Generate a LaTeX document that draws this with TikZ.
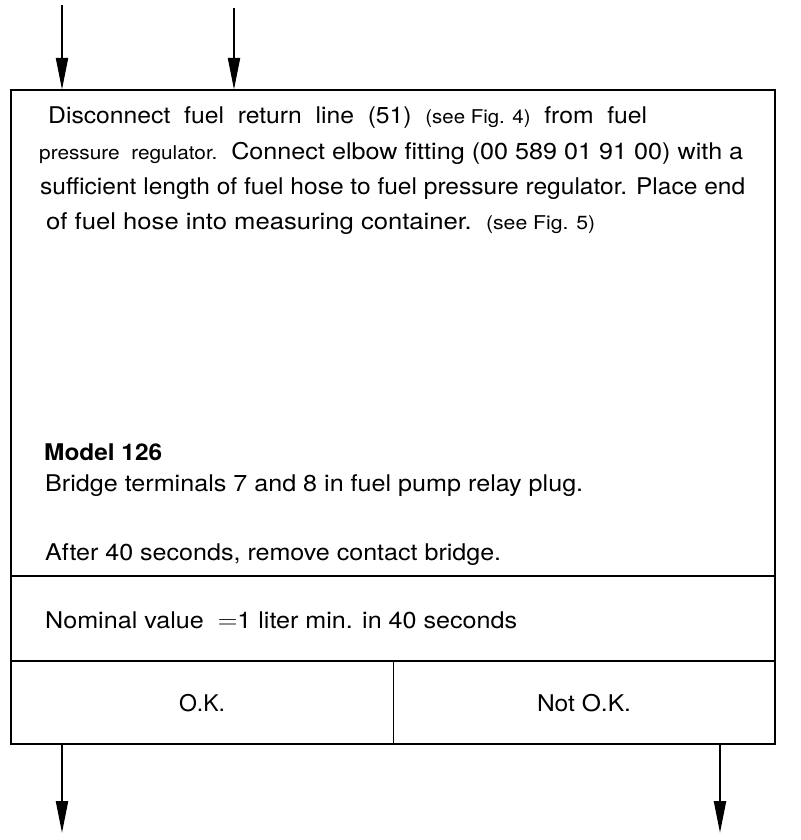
\documentclass[tikz,border=0pt]{standalone}
\usepackage{fontspec}
\setmainfont{TeX Gyre Heros}
\usepackage{graphicx}
\usetikzlibrary{arrows.meta}
\newcommand{\fitw}[2]{\resizebox{#1pt}{\height}{#2}}
\newcommand{\smalltxt}{\fontsize{19}{22}\selectfont}
\begin{document}
\begin{tikzpicture}[x=1pt,y=-1pt,
  frame/.style={line width=2pt},
  cell/.style={draw=none,inner sep=0pt,minimum width=764pt},
  txt/.style={anchor=base west,inner sep=0pt,font=\fontsize{23}{26}\selectfont},
  flow/.style={line width=2.2pt,-{Triangle[length=32pt,width=12pt]}}]
\useasboundingbox (0,0) rectangle (800,840);
% cells
\node[cell,minimum height=486pt] (main) at (393,333) {};
\node[cell,minimum height=85pt] (nominal) at (393,618.5) {};
\node[cell,minimum width=382pt,minimum height=83pt] (ok) at (202,702.5) {};
\node[cell,minimum width=382pt,minimum height=83pt] (notok) at (584,702.5) {};
% frame
\draw[frame] (main.north west) rectangle (notok.south east);
\draw[line width=1.8pt] (main.south west) -- (main.south east);
\draw[line width=1.8pt] (nominal.south west) -- (nominal.south east);
\draw[line width=0.9pt] (ok.north east) -- (ok.south east);
% text
\node[txt] (l1) at (48,124) {\fitw{599}{Disconnect\ \ fuel\ \ return\ \ line\ \ (51)\ \ {\smalltxt(see Fig. 4)}\ \ from\ \ fuel}};
\node[txt] (l2) at (39,159) {\fitw{704}{{\smalltxt pressure\ \ regulator.}\ \ Connect elbow fitting (00 589 01 91 00) with a}};
\node[txt] (l3) at (40,194) {\fitw{705}{sufficient length of fuel hose to fuel pressure regulator. Place end}};
\node[txt] (l4) at (46,229) {\fitw{549}{of fuel hose into measuring container.\ \ {\smalltxt(see Fig. 5)}}};
\node[txt] (m1) at (44,460) {\fitw{118}{\bfseries Model 126}};
\node[txt] (m2) at (45,491) {\fitw{538}{Bridge terminals 7 and 8 in fuel pump relay plug.}};
\node[txt] (m3) at (45,560) {\fitw{456}{After 40 seconds, remove contact bridge.}};
\node[txt] (nv) at (45,628) {\fitw{472}{Nominal value\ \ $=$1 liter min. in 40 seconds}};
\node[txt,anchor=base] (okt) at (ok.center) [yshift=-8.5pt] {\fitw{46}{O.K.}};
\node[txt,anchor=base] (nokt) at (notok.center) [yshift=-8.5pt] {\fitw{94}{Not O.K.}};
% connectors
\coordinate (in1) at (62,5);
\coordinate (in2) at (234,8);
\coordinate (out1) at (62,833);
\coordinate (out2) at (720,833);
\draw[flow] (in1) -- (in1 |- main.north);
\draw[flow] (in2) -- (in2 |- main.north);
\draw[flow] (out1 |- ok.south) -- (out1);
\draw[flow] (out2 |- notok.south) -- (out2);
\end{tikzpicture}
\end{document}
